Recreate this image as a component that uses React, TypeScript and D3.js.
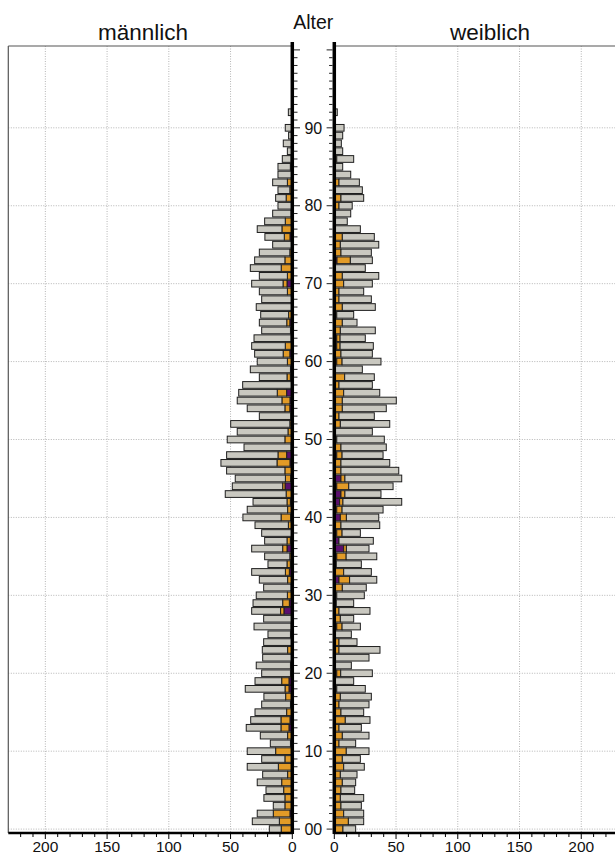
import React from 'react';
import * as d3 from 'd3';

// ages 0..92
const ages = d3.range(0, 93);

// männlich: total length, orange and purple parts
const maleTotal = [
  18.6, 32.4, 28.4, 15.4, 23, 21.3, 28.4, 24, 36.5, 24.8,
  36.5, 17.8, 25.9, 37.3, 33.7, 30.2, 24.8, 23, 38.1, 30.2,
  24.8, 29.2, 24, 24.3, 23.2, 19.7, 31, 23.2, 32.9, 31.8,
  29.2, 23.2, 26.7, 32.9, 19.7, 22.4, 32.9, 22.4, 24.8, 30.2,
  40, 36.5, 31.8, 54.3, 48.6, 46.2, 53.2, 57.8, 53.2, 39.1,
  52.7, 44.6, 49.9, 26.7, 36.5, 44.6, 43.4, 40.2, 26.7, 34,
  28.4, 30.5, 32.9, 31, 24.8, 26.7, 25.6, 29.2, 24.8, 26.7,
  32.9, 26.7, 34, 30.5, 26.7, 15.9, 22.2, 28.4, 22.4, 15.9,
  11.6, 13.5, 11.6, 15.9, 11.6, 11.6, 8.1, 4, 7.3, 3,
  5.7, 0, 3.2,
];
const maleOrange = [
  9, 10.5, 13.5, 6, 6, 7, 8.6, 3.8, 11.3, 6,
  13.5, 1.5, 3.8, 6.5, 7.3, 4.6, 1.5, 5.4, 3.2, 5.9,
  1.5, 1.5, 0, 3.8, 0, 1.5, 0, 0, 2.7, 5.4,
  4, 0, 3.8, 3.2, 2.7, 2, 3.5, 2.7, 0, 3.2,
  7.8, 3.8, 2.7, 5, 1.9, 4.3, 6, 10.5, 7, 0,
  6, 3.5, 1, 0, 4, 6.5, 7.6, 0, 2.7, 1.5,
  4, 5.4, 5.7, 0, 1.5, 2.5, 3, 0, 0, 4,
  3.2, 4, 9, 6, 2, 0, 4.6, 8.4, 5.7, 1,
  0, 5, 2, 4, 0, 1.6, 1, 0, 0, 0,
  0, 0, 0,
];
const malePurple = [
  0, 0, 1.9, 0, 0, 0, 0, 0, 0, 0,
  0, 0, 0, 2.7, 1.9, 0, 0, 0, 2.7, 2.7,
  0, 0, 0, 0, 0, 0, 1, 0, 6.8, 2.4,
  0, 1, 0, 2.4, 1.6, 0, 4.3, 1.6, 0, 0,
  1.3, 0, 1.6, 0, 5.9, 1.3, 0, 1.9, 4.6, 1,
  0, 0, 1, 1.3, 2, 1.9, 4.6, 0, 1.6, 0,
  0, 2, 0, 1, 0, 2, 0, 0, 0, 0,
  4.3, 0, 0, 0, 0, 0, 1.9, 0, 0, 0,
  0, 0, 0, 0, 0, 0, 0, 0, 0, 0,
  0, 0, 0,
];

// weiblich
const femaleTotal = [
  17.3, 23.8, 23.8, 21.9, 23.8, 16.5, 17.3, 18.4, 24.3, 21.1,
  28.1, 17.3, 28.1, 21.9, 28.9, 23.8, 28.1, 30, 25.1, 15.7,
  30.8, 13.8, 28.1, 37, 18.4, 13.8, 21.1, 15.7, 28.9, 15.7,
  24.3, 25.9, 34.4, 30, 21.9, 34.4, 28.1, 31.6, 21.1, 36.8,
  36, 39.5, 54.6, 37.8, 47.6, 54.6, 52.2, 44.9, 39.5, 42.1,
  40.5, 30.8, 44.9, 32.4, 42.1, 50.2, 36.8, 30.8, 32.4, 22.7,
  37.8, 30.8, 31.6, 25.1, 33.2, 18.4, 15.7, 33.2, 30, 23.8,
  30.8, 36, 25.1, 30.8, 30, 36, 32.4, 21.1, 10.5, 13.3,
  14.5, 23.8, 22.7, 20.3, 13.3, 6.8, 15.7, 6.8, 5.7, 6.8,
  7.9, 0, 2.4,
];
const femaleOrange = [
  7, 11.4, 7.6, 5.4, 4.9, 5.4, 6.5, 4.9, 7.6, 6.5,
  9.7, 3.8, 6.5, 3.8, 8.9, 5.4, 3.8, 4.9, 2, 0,
  3.2, 0, 0, 3.8, 3.8, 0, 4.3, 4.9, 3.8, 0,
  2, 6.5, 8.6, 7.6, 0, 7.6, 2.2, 0, 4.3, 5.4,
  4.9, 4.3, 2.7, 3.2, 9.7, 3.2, 5.4, 5.4, 4.3, 5.4,
  2, 0, 4.9, 3.8, 6.5, 6.5, 7.6, 3.8, 8.4, 0,
  4.3, 5.4, 2.7, 2.7, 4.9, 6.5, 2, 6.5, 3.8, 3.8,
  7.6, 6.5, 0, 10.8, 5.4, 4.9, 6.5, 0, 0, 0,
  3.8, 5.4, 0, 3.8, 0, 0, 2, 0, 0, 0,
  0, 0, 0,
];
const femalePurple = [
  0, 0, 0, 0, 0, 0, 0, 0, 0, 0,
  0, 0, 0, 0, 0, 0, 0, 0, 0, 0,
  2, 0, 0, 0, 0, 0, 2, 0, 0, 1.6,
  0, 0, 3.8, 0, 1.6, 2, 7.6, 3.8, 2, 0,
  4.9, 2, 4.3, 5.4, 2, 5.4, 0, 0, 2, 0,
  0, 1, 0, 0, 0, 0, 0, 0, 0, 0,
  2, 0, 2, 2, 0, 0, 0, 0, 0, 0,
  0, 0, 0, 2.2, 0, 0, 0, 0, 0, 0,
  0, 0, 0, 0, 0, 0, 0, 0, 0, 0,
  0, 0, 0,
];

const xTicks = [0, 50, 100, 150, 200];
const ageLabels = d3.range(0, 100, 10);

const colors = { purple: '#5b0f6e', orange: '#e29b27', gray: '#c9c8c0' };
const font = '"Liberation Sans", Arial, sans-serif';

const width = 615;
const height = 857;
const top = 46;
const bottom = 833;

const y = d3.scaleLinear().domain([-0.5, 100.5]).range([bottom, top]);
const xL = d3.scaleLinear().domain([0, 230]).range([292.3, 8.3]);
const xR = d3.scaleLinear().domain([0, 230]).range([334.3, 618.3]);

function rows(total, orange, purple) {
  return ages.map((age, i) => ({
    age,
    purple: purple[i],
    orange: orange[i],
    gray: Math.max(0, total[i] - orange[i] - purple[i]),
  }));
}

const stack = d3.stack().keys(['purple', 'orange', 'gray']);

function Side({ data, x, left }) {
  const series = stack(data);
  const bh = (y(0) - y(1)) * 0.86;
  const [x0, x1] = left ? [x(230), x(0)] : [x(0), x(230)];
  return (
    <g>
      {/* grid */}
      {xTicks.slice(1).map(t => (
        <line key={'v' + t} x1={x(t)} x2={x(t)} y1={top} y2={bottom}
          stroke="#b5b5b5" strokeDasharray="1,1.5" />
      ))}
      {ageLabels.map(a => (
        <line key={'h' + a} x1={x0} x2={x1} y1={y(a)} y2={y(a)}
          stroke="#b5b5b5" strokeDasharray="1,1.5" />
      ))}
      {/* bars */}
      {series.map(s => (
        <g key={s.key} fill={colors[s.key]} stroke="#1e1e1e" strokeWidth={1}>
          {s.map((d, i) => {
            const w = Math.abs(x(d[1]) - x(d[0]));
            if (w < 0.5) return null;
            return (
              <rect key={i}
                x={Math.min(x(d[0]), x(d[1]))}
                y={y(data[i].age) - bh / 2}
                width={w} height={bh} />
            );
          })}
        </g>
      ))}
      {/* frame */}
      <line x1={x0} x2={x1} y1={top} y2={top} stroke="#555" strokeWidth={1.2} />
      {left && <line x1={x0} x2={x0} y1={top} y2={bottom} stroke="#555" strokeWidth={1.2} />}
      <line x1={x0} x2={x1} y1={bottom} y2={bottom} stroke="#000" strokeWidth={2.5} />
      <line x1={x(0)} x2={x(0)} y1={top - 4} y2={bottom + 1} stroke="#000" strokeWidth={3.5} />
      {/* bottom ticks */}
      {d3.range(0, 230, 10).map(t => (
        <line key={'t' + t} x1={x(t)} x2={x(t)} y1={bottom} y2={bottom + (t % 50 === 0 ? 6 : 4)}
          stroke="#000" strokeWidth={1} />
      ))}
      {xTicks.map(t => (
        <text key={'l' + t} x={x(t)} y={852} textAnchor="middle" fontSize={15.5}
          fontFamily={font} fill="#111">{t}</text>
      ))}
      {/* age ticks */}
      {d3.range(0, 101).map(a => {
        const len = a % 10 === 0 ? 6 : 3.5;
        const xs = left ? x(0) + 1.7 : x(0) - 1.7;
        return (
          <line key={'a' + a} x1={xs} x2={left ? xs + len : xs - len} y1={y(a)} y2={y(a)}
            stroke="#222" strokeWidth={1} />
        );
      })}
    </g>
  );
}

export default function App() {
  const male = rows(maleTotal, maleOrange, malePurple);
  const female = rows(femaleTotal, femaleOrange, femalePurple);
  const mid = (xL(0) + xR(0)) / 2;
  return (
    <svg width={width} height={height} style={{ position: 'absolute', left: 0, top: 0, background: '#fff' }}>
      <Side data={male} x={xL} left={true} />
      <Side data={female} x={xR} left={false} />
      {ageLabels.map(a => (
        <text key={a} x={mid} y={y(a)} dy="0.36em" textAnchor="middle" fontSize={16}
          fontFamily={font} fill="#111">{a === 0 ? '00' : a}</text>
      ))}
      <text x={143} y={40} textAnchor="middle" fontSize={22.5} fontFamily={font} fill="#111">männlich</text>
      <text x={mid} y={29} textAnchor="middle" fontSize={19.5} fontFamily={font} fill="#111">Alter</text>
      <text x={490} y={40} textAnchor="middle" fontSize={22.5} fontFamily={font} fill="#111">weiblich</text>
    </svg>
  );
}
